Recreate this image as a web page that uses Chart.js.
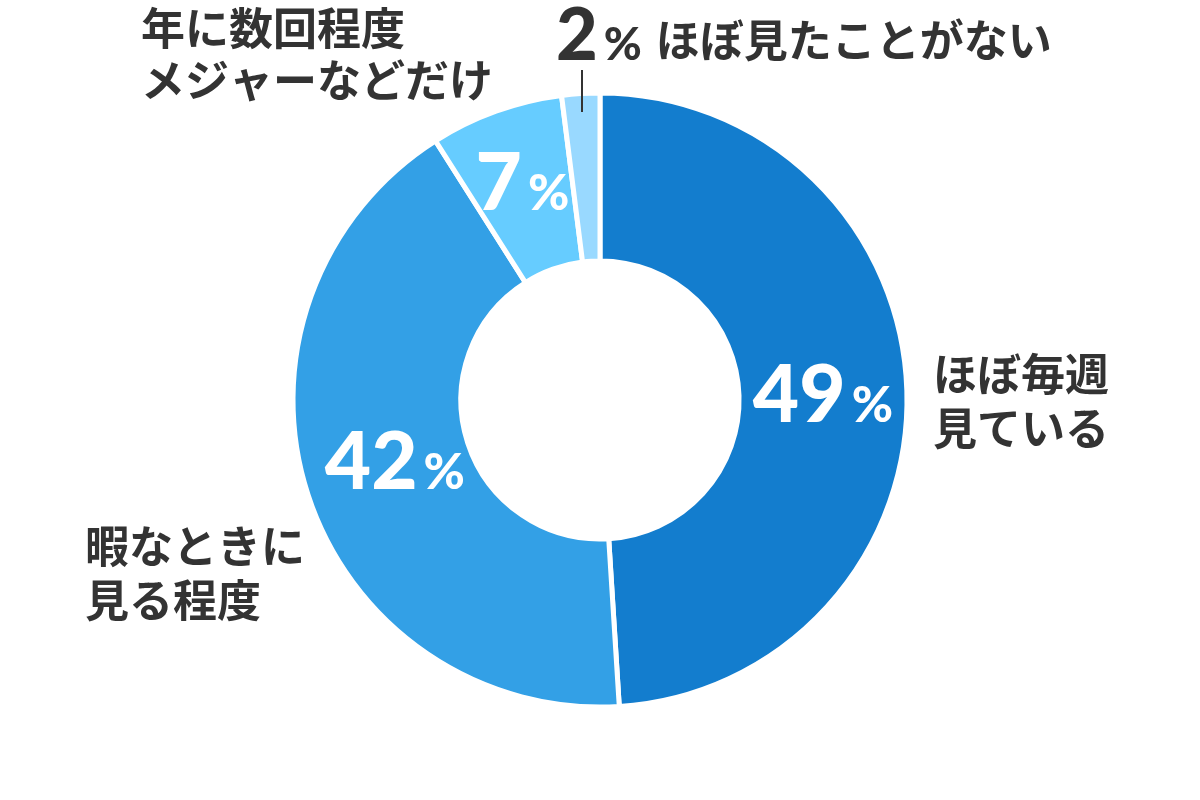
<!DOCTYPE html>
<html>
<head>
<meta charset="utf-8">
<script src="https://cdn.jsdelivr.net/npm/chart.js@4.4.1/dist/chart.umd.min.js"></script>
<style>
    html, body { margin: 0; padding: 0; background: #fff; }
    #wrap { width: 1200px; height: 800px; }
</style>
</head>
<body>
<div id="wrap"><canvas id="pieChart" width="1200" height="800"></canvas></div>
<script>
// 回答カテゴリと割合
const categories = ['ほぼ毎週見ている', '暇なときに見る程度', '年に数回程度メジャーなどだけ', 'ほぼ見たことがない'];
const labelLines = [['ほぼ毎週', '見ている'], ['暇なときに', '見る程度'], ['年に数回程度', 'メジャーなどだけ'], ['ほぼ見たことがない']];
const shares = [49, 42, 7, 2];
const sliceColors = ['#137dce', '#33a0e6', '#66ccff', '#99d9ff'];

const textColor = '#333333';
const jpFont = '"Noto Sans CJK JP", sans-serif';
const numFont = 'Lato, "Noto Sans", sans-serif';

// 数字 + 小さい % を描く
function drawPercent(ctx, value, x, y, color, bigSize, smallSize, align) {
    const num = String(value);
    ctx.fillStyle = color;
    ctx.textBaseline = 'alphabetic';
    ctx.font = `900 ${bigSize}px ${numFont}`;
    const wNum = ctx.measureText(num).width;
    ctx.font = `900 ${smallSize}px ${numFont}`;
    const wPct = ctx.measureText('%').width;
    const gap = 6;
    let left = x;
    if (align === 'center') left = x - (wNum + gap + wPct) / 2;
    ctx.textAlign = 'left';
    ctx.font = `900 ${bigSize}px ${numFont}`;
    ctx.fillText(num, left, y);
    ctx.font = `900 ${smallSize}px ${numFont}`;
    ctx.fillText('%', left + wNum + gap, y);
    return left + wNum + gap + wPct;
}

const labelPlugin = {
    id: 'sliceLabels',
    afterDraw(chart) {
        const ctx = chart.ctx;
        const arcs = chart.getDatasetMeta(0).data;
        ctx.save();

        // 内側の白いパーセント表示（上位3つ）
        const radialShift = [0, 0, 12];
        const nudge = [[0, 0], [7, -9], [2, 2]];
        for (let i = 0; i < 3; i++) {
            const a = arcs[i];
            const mid = (a.startAngle + a.endAngle) / 2;
            const r = (a.innerRadius + a.outerRadius) / 2 + radialShift[i];
            const cx = a.x + Math.cos(mid) * r + nudge[i][0];
            const cy = a.y + Math.sin(mid) * r + nudge[i][1];
            drawPercent(ctx, shares[i], cx, cy + 29, '#ffffff', 80, 50, 'center');
        }

        // 外側ラベル
        ctx.fillStyle = textColor;
        ctx.textAlign = 'left';
        ctx.textBaseline = 'middle';
        ctx.font = `bold 44px ${jpFont}`;
        ctx.fillText(labelLines[0][0], 933, 374);
        ctx.fillText(labelLines[0][1], 933, 428);
        ctx.fillText(labelLines[1][0], 85, 546);
        ctx.fillText(labelLines[1][1], 85, 600);
        ctx.fillText(labelLines[2][0], 141, 28);
        ctx.fillText(labelLines[2][1], 141, 80);

        // 2% と引き出し線
        const small = arcs[3];
        const midS = (small.startAngle + small.endAngle) / 2;
        const lx = small.x + Math.cos(midS) * (small.outerRadius - 20);
        ctx.strokeStyle = textColor;
        ctx.lineWidth = 2;
        ctx.beginPath();
        ctx.moveTo(lx, 70);
        ctx.lineTo(lx, 112);
        ctx.stroke();

        const end = drawPercent(ctx, shares[3], 556, 60, textColor, 72, 46, 'left');
        ctx.fillStyle = textColor;
        ctx.textAlign = 'left';
        ctx.textBaseline = 'middle';
        ctx.font = `bold 44px ${jpFont}`;
        ctx.fillText(labelLines[3][0], end + 14, 40);

        ctx.restore();
    }
};

const ctx = document.getElementById('pieChart').getContext('2d');
const chart = new Chart(ctx, {
    type: 'doughnut',
    data: {
        labels: categories,
        datasets: [{
            data: shares,
            backgroundColor: sliceColors,
            borderColor: '#ffffff',
            borderWidth: 5,
            hoverOffset: 0
        }]
    },
    options: {
        responsive: false,
        animation: false,
        radius: 307,
        cutout: '45.3%',
        layout: { padding: 0 },
        plugins: {
            legend: { display: false },
            tooltip: { enabled: false }
        }
    },
    plugins: [labelPlugin]
});
</script>
</body>
</html>
